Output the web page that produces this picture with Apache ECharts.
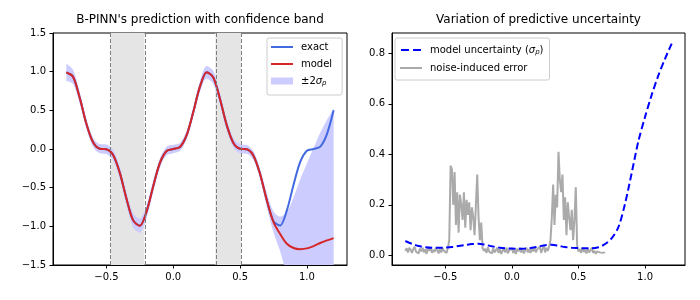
<!DOCTYPE html>
<html><head><meta charset="utf-8">
<script src="https://cdn.jsdelivr.net/npm/echarts@6/dist/echarts.min.js"></script>
<style>html,body{margin:0;padding:0;background:#fff}#c{width:700px;height:300px}</style>
</head><body><div id="c"></div><script>
// ---------- data ----------
const xs = [-0.80,-0.75,-0.70,-0.65,-0.60,-0.55,-0.50,-0.45,-0.40,-0.35,-0.30,-0.25,-0.20,-0.15,-0.10,-0.05,0.00,
  0.05,0.10,0.15,0.20,0.25,0.30,0.35,0.40,0.45,0.50,0.55,0.60,0.65,0.70,0.75,0.80,0.85,0.90,0.95,1.00,1.05,1.10,1.15,1.20];
const exact = [0.9886,0.934,0.6621,0.3254,0.0866,0.0039,-0.0028,-0.0781,-0.3082,-0.6432,-0.9235,-0.9925,-0.8096,-0.4806,-0.18,-0.0258,0,
  0.0258,0.18,0.4806,0.8096,0.9925,0.9235,0.6432,0.3082,0.0781,0.0028,-0.0039,-0.0866,-0.3254,-0.6621,-0.934,-0.9886,-0.7935,-0.4615,-0.167,-0.0218,0.0,0.0302,0.1935,0.5];
const model = [0.9886,0.934,0.6621,0.3254,0.0866,0.0039,-0.0028,-0.0781,-0.3082,-0.6432,-0.9235,-0.9925,-0.8096,-0.4806,-0.18,-0.0258,0,
  0.0258,0.18,0.4806,0.8096,0.9925,0.9235,0.6432,0.3082,0.0781,0.0028,-0.0039,-0.0866,-0.3254,-0.6621,-0.945,-1.10,-1.225,-1.28,-1.295,-1.285,-1.255,-1.215,-1.182,-1.152];
const sigma = [0.057,0.046,0.037,0.032,0.030,0.030,0.031,0.033,0.037,0.041,0.045,0.046,0.042,0.036,0.031,0.028,0.027,
  0.026,0.027,0.030,0.035,0.040,0.042,0.038,0.033,0.030,0.029,0.028,0.028,0.032,0.045,0.068,0.112,0.205,0.327,0.452,0.548,0.635,0.712,0.778,0.838];
const noiseBands = [[-0.47,-0.215],[0.315,0.507]];
const noiseX = [
 -0.80,-0.79,-0.78,-0.77,-0.76,-0.75,-0.74,-0.73,-0.72,-0.71,-0.70,-0.69,-0.68,-0.67,-0.66,-0.65,-0.64,-0.63,-0.62,-0.61,
 -0.60,-0.59,-0.58,-0.57,-0.56,-0.55,-0.54,-0.53,-0.52,-0.51,-0.50,-0.49,-0.48,-0.47,-0.46,-0.45,-0.44,-0.43,-0.42,-0.41,
 -0.40,-0.39,-0.38,-0.37,-0.36,-0.35,-0.34,-0.33,-0.32,-0.31,-0.30,-0.29,-0.28,-0.27,-0.26,-0.25,-0.24,-0.23,-0.22,-0.21,
 -0.20,-0.19,-0.18,-0.17,-0.16,-0.15,-0.14,-0.13,-0.12,-0.11,-0.10,-0.09,-0.08,-0.07,-0.06,-0.05,-0.04,-0.03,-0.02,-0.01,
 0.00,0.01,0.02,0.03,0.04,0.05,0.06,0.07,0.08,0.09,0.10,0.11,0.12,0.13,0.14,0.15,0.16,0.17,0.18,0.19,
 0.20,0.21,0.22,0.23,0.24,0.25,0.26,0.27,0.28,0.29,0.30,0.31,0.32,0.33,0.34,0.35,0.36,0.37,0.38,0.39,
 0.40,0.41,0.42,0.43,0.44,0.45,0.46,0.47,0.48,0.49,0.50,0.51,0.52,0.53,0.54,0.55,0.56,0.57,0.58,0.59,
 0.60,0.61,0.62,0.63,0.64,0.65,0.66,0.67,0.68,0.69,0.70];
const noise = [
 0.018,0.028,0.012,0.030,0.022,0.010,0.025,0.034,0.015,0.020,0.008,0.027,0.016,0.030,0.012,0.024,0.006,0.028,0.018,0.033,
 0.010,0.022,0.014,0.030,0.020,0.008,0.026,0.012,0.028,0.018,0.024,0.010,0.030,0.060,0.355,0.340,0.200,0.330,0.120,0.250,
 0.090,0.240,0.200,0.140,0.250,0.110,0.220,0.160,0.210,0.100,0.190,0.150,0.080,0.200,0.320,0.150,0.060,0.130,0.030,0.018,
 0.026,0.010,0.032,0.015,0.022,0.008,0.028,0.012,0.020,0.030,0.010,0.024,0.006,0.018,0.026,0.012,0.030,0.008,0.020,0.014,
 0.028,0.010,0.022,0.006,0.026,0.016,0.030,0.012,0.024,0.008,0.020,0.030,0.012,0.025,0.010,0.028,0.016,0.032,0.012,0.024,
 0.018,0.034,0.010,0.026,0.040,0.012,0.030,0.018,0.035,0.060,0.150,0.280,0.120,0.240,0.190,0.410,0.300,0.250,0.320,0.140,
 0.230,0.080,0.210,0.150,0.100,0.180,0.060,0.140,0.270,0.040,0.015,0.025,0.010,0.030,0.014,0.022,0.008,0.026,0.012,0.020,
 0.030,0.010,0.018,0.006,0.016,0.022,0.012,0.018,0.010,0.015,0.012];
const xTicks = [-0.5, 0.0, 0.5, 1.0];
const yTicksRight = [0.0, 0.2, 0.4, 0.6, 0.8];
const titles = ["B-PINN's prediction with confidence band", "Variation of predictive uncertainty"];

// ---------- build ----------
const FONT = 'DejaVu Sans';
const fmt = v => (Math.abs(v) < 1e-9 ? '0.0' : v.toFixed(1).replace('-', '\u2212'));
const pairs = (x, y) => x.map((v, i) => [v, y[i]]);
// [y, x] order so that the stacked dimension is y
const pairsYX = (x, y) => x.map((v, i) => [y[i], v]);
const bandLow = model.map((m, i) => m - 2 * sigma[i]);
const bandSpan = sigma.map(s => 4 * s);
const SM = 0.3;
const LINE_ICON = 'path://M0,0h0.05v0.05h-0.05z M0,2.6h22v1.8h-22z M21.95,6.95h0.05v0.05h-0.05z';
const DASH_ICON = 'path://M0,0h0.05v0.05h-0.05z M0,2.6h8v1.8h-8z M12,2.6h8v1.8h-8z M19.95,6.95h0.05v0.05h-0.05z';

function xAxis(gi) {
  return {
    type: 'value', gridIndex: gi, min: -0.9, max: 1.3,
    axisLine: {show: true, onZero: false, lineStyle: {color: '#000', width: 1}},
    axisTick: {show: true, length: 3.5, lineStyle: {color: '#000', width: 1}, customValues: xTicks},
    axisLabel: {customValues: xTicks, formatter: fmt, color: '#000', fontSize: 10, fontFamily: FONT, margin: 7},
    splitLine: {show: false}
  };
}
const richSub = {
  s: {fontStyle: 'italic', fontSize: 10, fontFamily: FONT, color: '#000'},
  p: {fontStyle: 'italic', fontSize: 7, fontFamily: FONT, color: '#000', padding: [5, 0, 0, 0]}
};
const legFmt = name => name.replace('σp', '{s|σ}{p|p}');

const option = {
  animation: false,
  backgroundColor: '#fff',
  title: [
    {text: titles[0], left: 200, top: 14, textAlign: 'center', padding: 0,
     textStyle: {fontSize: 12, fontWeight: 'normal', fontFamily: FONT, color: '#000'}},
    {text: titles[1], left: 538.5, top: 14, textAlign: 'center', padding: 0,
     textStyle: {fontSize: 12, fontWeight: 'normal', fontFamily: FONT, color: '#000'}}
  ],
  grid: [
    {left: 53, right: 353, top: 33, bottom: 35, show: true, borderColor: '#000', borderWidth: 1, backgroundColor: 'transparent'},
    {left: 392, right: 15, top: 33, bottom: 35, show: true, borderColor: '#000', borderWidth: 1, backgroundColor: 'transparent'}
  ],
  xAxis: [xAxis(0), xAxis(1)],
  yAxis: [
    {type: 'value', gridIndex: 0, min: -1.5, max: 1.5, interval: 0.5,
     axisLine: {show: true, onZero: false, lineStyle: {color: '#000', width: 1}},
     axisTick: {show: true, length: 3.5, lineStyle: {color: '#000'}},
     axisLabel: {formatter: fmt, color: '#000', fontSize: 10, fontFamily: FONT, margin: 7},
     splitLine: {show: false}},
    {type: 'value', gridIndex: 1, min: -0.038, max: 0.88,
     axisLine: {show: true, onZero: false, lineStyle: {color: '#000', width: 1}},
     axisTick: {show: true, length: 3.5, lineStyle: {color: '#000'}, customValues: yTicksRight},
     axisLabel: {customValues: yTicksRight, formatter: fmt, color: '#000', fontSize: 10, fontFamily: FONT, margin: 7},
     splitLine: {show: false}}
  ],
  legend: [
    {left: 267, top: 38, orient: 'vertical', selectedMode: false,
     data: [{name: 'exact', icon: LINE_ICON}, {name: 'model', icon: LINE_ICON}, {name: '±2σp', icon: 'rect'}],
     itemWidth: 22, itemHeight: 7, itemGap: 5, padding: [3, 10, 8, 4],
     borderColor: '#cccccc', borderWidth: 1, borderRadius: 2, backgroundColor: 'rgba(255,255,255,0.8)',
     formatter: legFmt,
     textStyle: {fontSize: 10, fontFamily: FONT, color: '#000', lineHeight: 12, padding: [0, 0, 0, 3], rich: richSub}},
    {left: 395, top: 38, orient: 'vertical', selectedMode: false,
     data: [{name: 'model uncertainty (σp)', icon: DASH_ICON}, {name: 'noise-induced error', icon: LINE_ICON}],
     itemWidth: 22, itemHeight: 7, itemGap: 5, padding: [5.5, 6, 5.5, 5],
     borderColor: '#cccccc', borderWidth: 1, borderRadius: 2, backgroundColor: 'rgba(255,255,255,0.8)',
     formatter: legFmt,
     textStyle: {fontSize: 10, fontFamily: FONT, color: '#000', lineHeight: 13, padding: [0, 0, 0, 3], rich: richSub}}
  ],
  series: [
    {type: 'line', xAxisIndex: 0, yAxisIndex: 0, name: 'noiseRegions', z: 0, silent: true,
     data: [[noiseBands[0][0], 0]], symbol: 'none', lineStyle: {opacity: 0},
     markArea: {silent: true, itemStyle: {color: '#e5e5e5'},
       data: noiseBands.map(b => [{xAxis: b[0]}, {xAxis: b[1]}])},
     markLine: {silent: true, symbol: ['none', 'none'], label: {show: false},
       lineStyle: {type: [4, 2], color: '#808080', width: 1},
       data: noiseBands.flat().map(v => ({xAxis: v}))}},
    {type: 'line', xAxisIndex: 0, yAxisIndex: 0, name: 'bandLow', z: 1, silent: true,
     encode: {x: 1, y: 0},
     stack: 'band', stackStrategy: 'all', data: pairsYX(xs, bandLow), smooth: SM,
     symbol: 'none', lineStyle: {opacity: 0, width: 0}},
    {type: 'line', xAxisIndex: 0, yAxisIndex: 0, name: '±2σp', z: 1, silent: true,
     encode: {x: 1, y: 0},
     stack: 'band', stackStrategy: 'all', data: pairsYX(xs, bandSpan), smooth: SM,
     symbol: 'none', color: '#ccccff', itemStyle: {color: '#ccccff'},
     lineStyle: {opacity: 0, width: 0}, areaStyle: {color: '#ccccff', opacity: 1}},
    {type: 'line', xAxisIndex: 0, yAxisIndex: 0, name: 'exact', z: 3, data: pairs(xs, exact), smooth: SM,
     symbol: 'none', color: '#4169e1', lineStyle: {color: '#4169e1', width: 2}},
    {type: 'line', xAxisIndex: 0, yAxisIndex: 0, name: 'model', z: 4, data: pairs(xs, model), smooth: SM,
     symbol: 'none', color: '#d62728', lineStyle: {color: '#d62728', width: 2}},
    {type: 'line', xAxisIndex: 1, yAxisIndex: 1, name: 'noise-induced error', z: 3, data: pairs(noiseX, noise),
     symbol: 'none', color: '#aaaaaa', lineStyle: {color: '#aaaaaa', width: 2}},
    {type: 'line', xAxisIndex: 1, yAxisIndex: 1, name: 'model uncertainty (σp)', z: 4, data: pairs(xs, sigma), smooth: SM,
     symbol: 'none', color: '#0000ff', lineStyle: {color: '#0000ff', width: 2, type: [7, 3.5]}}
  ]
};
const chart = echarts.init(document.getElementById('c'), null, {renderer: 'canvas'});
chart.setOption(option);
</script></body></html>
